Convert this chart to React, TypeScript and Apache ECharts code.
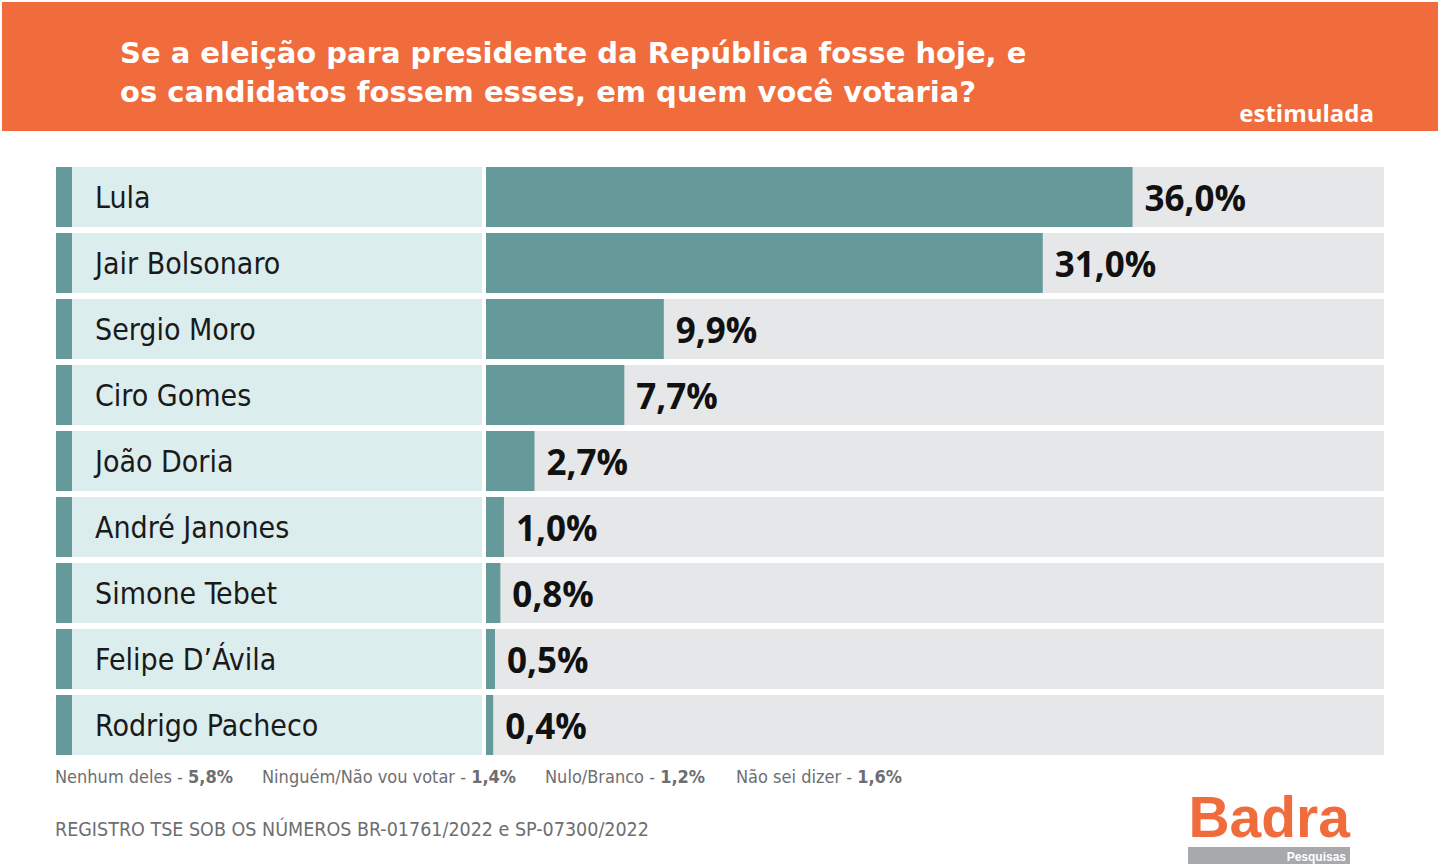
import React, { useEffect, useRef } from "react";
import * as echarts from "echarts";

const candidates = [
  "Lula",
  "Jair Bolsonaro",
  "Sergio Moro",
  "Ciro Gomes",
  "João Doria",
  "André Janones",
  "Simone Tebet",
  "Felipe D’Ávila",
  "Rodrigo Pacheco",
];
const votes = [36.0, 31.0, 9.9, 7.7, 2.7, 1.0, 0.8, 0.5, 0.4];

const otherLabels = ["Nenhum deles", "Ninguém/Não vou votar", "Nulo/Branco", "Não sei dizer"];
const otherValues = [5.8, 1.4, 1.2, 1.6];

const titleLines = [
  "Se a eleição para presidente da República fosse hoje, e",
  "os candidatos fossem esses, em quem você votaria?",
];
const subtitle = "estimulada";
const registro = "REGISTRO TSE SOB OS NÚMEROS BR-01761/2022 e SP-07300/2022";

const ORANGE = "#F06C3D";
const TEAL = "#66999A";
const LIGHT = "#DCEDEE";
const GRAY = "#E6E7E8";
const NARROW = "'Liberation Sans Narrow', 'DejaVu Sans Condensed', 'Roboto', sans-serif";

const fmt = (v: number) => v.toFixed(1).replace(".", ",") + "%";

export default function App() {
  const ref = useRef<HTMLDivElement>(null);
  useEffect(() => {
    if (!ref.current) return;
    const chart = echarts.init(ref.current, null, { renderer: "svg" });
    const otherX = [55, 262, 545, 736];
    const option: any = {
      animation: false,
      backgroundColor: "#ffffff",
      grid: [
        { left: 486, top: 164, width: 898, height: 594 },
        { left: 56, top: 164, width: 426, height: 594 },
      ],
      xAxis: [
        { type: "value", gridIndex: 0, min: 0, max: 50, show: false },
        { type: "value", gridIndex: 1, min: 0, max: 426, show: false },
      ],
      yAxis: [
        { type: "category", gridIndex: 0, data: candidates, inverse: true, show: false },
        { type: "category", gridIndex: 1, data: candidates, inverse: true, show: false },
      ],
      series: [
        {
          type: "bar",
          xAxisIndex: 0,
          yAxisIndex: 0,
          data: votes,
          barWidth: 60,
          itemStyle: { color: TEAL },
          showBackground: true,
          backgroundStyle: { color: GRAY },
          label: {
            show: true,
            position: "right",
            distance: 12,
            formatter: (p: any) => fmt(p.value),
            fontFamily: "Open Sans",
            fontWeight: "bold",
            fontSize: 35,
            color: "#111111",
          },
        },
        {
          type: "bar",
          xAxisIndex: 1,
          yAxisIndex: 1,
          data: candidates.map(() => 16),
          barWidth: 60,
          itemStyle: { color: TEAL },
          showBackground: true,
          backgroundStyle: { color: LIGHT },
          label: {
            show: true,
            position: [39, "50%"],
            verticalAlign: "middle",
            formatter: (p: any) => p.name,
            fontFamily: NARROW,
            fontSize: 30,
            color: "#1A1A1A",
          },
        },
      ],
      graphic: [
        { type: "rect", shape: { x: 2, y: 2, width: 1436, height: 129 }, style: { fill: ORANGE }, z: 0 },
        ...titleLines.map((t, i) => ({
          type: "text",
          x: 120,
          y: 53 + i * 39,
          style: {
            text: t,
            fill: "#ffffff",
            font: "bold 29px 'DejaVu Sans'",
            verticalAlign: "middle",
          },
        })),
        {
          type: "text",
          x: 1374,
          y: 112,
          style: {
            text: subtitle,
            fill: "#ffffff",
            font: "bold 24px 'Open Sans'",
            align: "right",
            verticalAlign: "middle",
          },
        },
        ...otherLabels.map((l, i) => ({
          type: "text",
          x: otherX[i],
          y: 776,
          style: {
            text: `{a|${l} - }{b|${fmt(otherValues[i])}}`,
            verticalAlign: "middle",
            rich: {
              a: { fontFamily: NARROW, fontSize: 18, fill: "#6D6E71", color: "#6D6E71" },
              b: { fontFamily: NARROW, fontWeight: "bold", fontSize: 18, fill: "#6D6E71", color: "#6D6E71" },
            },
          },
        })),
        {
          type: "text",
          x: 55,
          y: 829,
          style: {
            text: registro,
            fill: "#6D6E71",
            font: `19.5px ${NARROW}`,
            verticalAlign: "middle",
          },
        },
        {
          type: "text",
          x: 1350,
          y: 817,
          style: {
            text: "Badra",
            fill: ORANGE,
            font: "bold 57px 'Liberation Sans'",
            align: "right",
            verticalAlign: "middle",
          },
        },
        { type: "rect", shape: { x: 1188, y: 847, width: 162, height: 17 }, style: { fill: "#A7A9AC" } },
        {
          type: "text",
          x: 1346,
          y: 856.5,
          style: {
            text: "Pesquisas",
            fill: "#ffffff",
            font: "bold 12px 'Liberation Sans'",
            align: "right",
            verticalAlign: "middle",
          },
        },
      ],
    };
    chart.setOption(option);
    return () => chart.dispose();
  }, []);
  return (
    <div
      ref={ref}
      style={{ position: "fixed", left: 0, top: 0, width: 1440, height: 866 }}
    />
  );
}
